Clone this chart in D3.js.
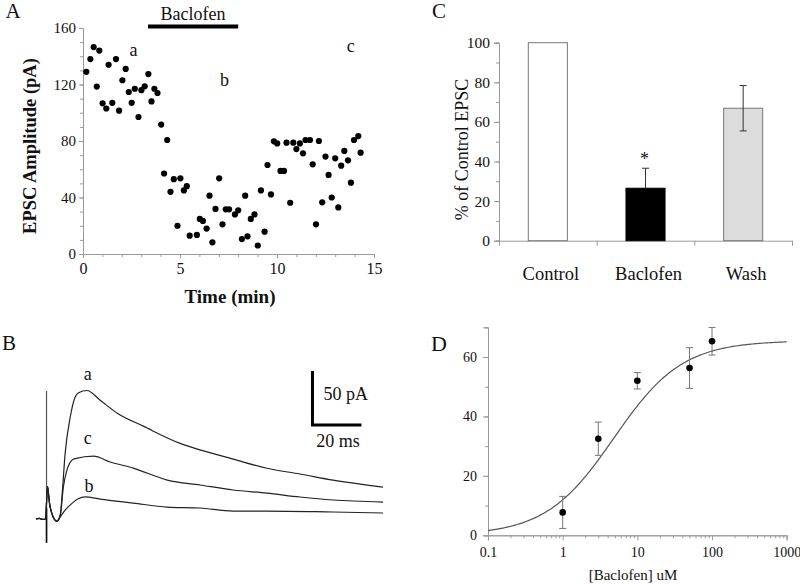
<!DOCTYPE html>
<html><head><meta charset="utf-8">
<script src="https://cdn.jsdelivr.net/npm/d3@7"></script>
<style>
body{margin:0;background:#fff;}
svg{display:block;}
.ax path,.ax line{stroke:#9a9a9a;stroke-width:1;}
</style></head><body>
<svg id="fig" width="800" height="584"></svg>
<script>
// ---------- Panel A: EPSC amplitude over time ----------
const timeMin = [0.17,0.38,0.55,0.71,0.84,1.01,1.2,1.32,1.51,1.7,1.86,2.03,2.2,2.36,2.51,2.67,2.86,3.01,3.18,3.37,3.53,3.68,3.84,4.03,4.34,4.18,4.51,4.68,4.87,5.02,5.2,5.35,5.5,5.87,6.02,6.18,6.37,6.52,6.67,6.83,7.02,7.19,7.36,7.53,7.83,8.0,8.19,8.36,8.48,8.65,8.84,9.01,9.17,9.36,9.51,9.69,9.84,10.01,10.18,10.36,10.49,10.68,10.84,11.0,11.18,11.34,11.47,11.7,11.84,12.01,12.16,12.33,12.5,12.66,12.82,13.0,13.16,13.31,13.47,13.66,13.81,13.97,14.19,14.31];
const epscAmp = [129,138,146.5,118.5,144,106.7,103,134,107,138,101.5,123,131,114.7,107,117,97,116,118.7,127.4,108,117,114,91.6,80.7,57,44,53,20,53.6,45,48,13,13.5,24.8,23.4,18,41.3,8.3,31.9,53.6,21,31.6,31.6,28,30.9,10.6,41.3,12.5,24.8,28,6,45,15.8,63,42.2,79.8,78.3,58.8,58.8,78.8,36.3,78.8,74.3,78.3,71.3,80.7,80.7,63.5,21,80,36.6,69,56,40,67.7,33,62.5,73,66.3,50.5,80.7,83.5,71.7];
const baclofenPeriod = [3.35, 8.0];
const timeTicks = [0,5,10,15];
const ampTicks = [0,40,80,120,160];
const pointMarkersA = [["a",2.6,140],["b",7.3,119],["c",13.8,143]];

// ---------- Panel B: traces (ms, pA) ----------
const preT = [-4.3,-3,-1.5,-0.4,0.4,1.2,2.5,4.2];
const preI = [0,0.6,-0.4,0,30,15,3,-2];
const traceA_t = [5.6,6.3,7.6,9.7,11.7,13.1,16.5,21.9,28.9,39.5,54.6,62.7,76.2,90,103.5,117,137.4];
const traceA_i = [4,20.6,60.8,94.7,113,117,119,110,98,86,70,64,55.5,47,41.7,36,29.6];
const traceC_t = [5.6,6.9,8.3,10.4,11.7,19.2,26,35.4,49.3,62.7,76.2,90,103.5,117,137.4];
const traceC_i = [3,30,45,54.6,56,58.3,52.8,47.2,36.1,31.5,26.9,24,20.4,17.6,15.7];
const traceB_t = [5.6,7.6,10.4,13.1,15.8,21.9,35.4,49.3,62.7,76.2,90,117,137.4];
const traceB_i = [2,8.3,14.5,19,20.6,18.5,14.8,11.1,10.2,7.4,7.4,6.5,5.6];
const artifactRange = [-22, 118.5];
const scaleBar = {pA: 50, ms: 20};

// ---------- Panel C: bar chart ----------
const conditions = ["Control","Baclofen","Wash"];
const percentControl = [100, 26.5, 66.9];
const percentErr = [0, 10.1, 11.45];
const barFills = ["#ffffff","#000000","#dcdcdc"];
const pctTicks = [0,20,40,60,80,100];

// ---------- Panel D: dose response ----------
const doseUM = [1,3,10,50,100];
const inhibition = [7.7,32.5,52,56.3,65.3];
const inhibitionErr = [5.4,5.6,2.75,6.85,4.65];
const doseTicks = [0.1,1,10,100,1000];
const inhTicks = [0,20,40,60];
const hillTop = 65.5, hillEC50 = 4.86, hillN = 0.95;

const svg = d3.select("#fig");
const serif = "Liberation Serif";
function txt(x,y,s,size,opts={}){
  const t = svg.append("text").attr("x",x).attr("y",y).text(s)
    .attr("font-size",size).attr("font-family",serif).attr("fill","#111");
  if(opts.anchor) t.attr("text-anchor",opts.anchor);
  if(opts.bold) t.attr("font-weight","bold");
  if(opts.rotate) t.attr("transform",`rotate(-90,${x},${y})`);
  return t;
}
function styleAxis(size){
  return g=>{
    g.attr("font-family",serif).attr("font-size",size);
    g.selectAll("text").attr("fill","#111").attr("font-family",serif).attr("font-size",size);
  };
}

// ===== Panel A =====
{
  const x = d3.scaleLinear().domain([0,15]).range([83,374]);
  const y = d3.scaleLinear().domain([0,160]).range([254,28]);
  svg.append("g").attr("class","ax").attr("transform","translate(0,254)")
    .call(d3.axisBottom(x).tickValues(d3.range(0,16,1)).tickSize(3).tickFormat(""));
  svg.append("g").attr("class","ax").attr("transform","translate(0,254)")
    .call(d3.axisBottom(x).tickValues(timeTicks).tickSize(4).tickPadding(4.3).tickFormat(d3.format("d")))
    .call(styleAxis(16));
  svg.append("g").attr("class","ax").attr("transform","translate(83,0)")
    .call(d3.axisLeft(y).tickValues(d3.range(0,161,10)).tickSize(3).tickFormat(""));
  svg.append("g").attr("class","ax").attr("transform","translate(83,0)")
    .call(d3.axisLeft(y).tickValues(ampTicks).tickSize(4).tickPadding(3).tickFormat(d3.format("d")))
    .call(styleAxis(15));
  svg.append("g").selectAll("circle").data(timeMin).join("circle")
    .attr("cx",(d)=>x(d)).attr("cy",(d,i)=>y(epscAmp[i])).attr("r",3.1).attr("fill","#000");
  svg.append("line").attr("x1",x(baclofenPeriod[0])).attr("x2",x(baclofenPeriod[1]))
    .attr("y1",26.5).attr("y2",26.5).attr("stroke","#000").attr("stroke-width",4);
  txt((x(baclofenPeriod[0])+x(baclofenPeriod[1]))/2,20,"Baclofen",18,{anchor:"middle"});
  pointMarkersA.forEach(([s,t,v])=>txt(x(t),y(v),s,18,{anchor:"middle"}));
  txt(36,146,"EPSC Amplitude (pA)",18.5,{anchor:"middle",bold:true,rotate:true});
  txt(230,303,"Time (min)",19,{anchor:"middle",bold:true});
  txt(13,18,"A",21,{anchor:"middle"});
}

// ===== Panel B =====
{
  const x = d3.scaleLinear().domain([-4.3,137.4]).range([36,383]);
  const y = d3.scaleLinear().domain([-22,119]).range([542.8,390.5]);
  const line = d3.line().x(d=>x(d[0])).y(d=>y(d[1])).curve(d3.curveMonotoneX);
  const pre = preT.map((t,i)=>[t,preI[i]]);
  const traces = [[traceA_t,traceA_i],[traceC_t,traceC_i],[traceB_t,traceB_i]];
  svg.append("line").attr("x1",x(0)).attr("x2",x(0)).attr("y1",y(artifactRange[1])).attr("y2",y(artifactRange[0]))
    .attr("stroke","#555").attr("stroke-width",1.2);
  svg.append("line").attr("x1",x(0)).attr("x2",x(0)).attr("y1",y(10)).attr("y2",y(artifactRange[0]))
    .attr("stroke","#111").attr("stroke-width",1.6);
  traces.forEach(([ts,is])=>{
    const pts = pre.concat(ts.map((t,i)=>[t,is[i]]));
    svg.append("path").attr("d",line(pts)).attr("fill","none").attr("stroke","#222").attr("stroke-width",1.2);
  });
  txt(x(16.8),380,"a",18,{anchor:"middle"});
  txt(x(16.8),444,"c",18,{anchor:"middle"});
  txt(x(17.3),491.5,"b",18,{anchor:"middle"});
  const bx = 108.6, by = 87;
  svg.append("path").attr("d",`M${x(bx)},${y(by+scaleBar.pA)}V${y(by)}H${x(bx+scaleBar.ms)}`)
    .attr("fill","none").attr("stroke","#000").attr("stroke-width",3);
  txt(x(bx)+11,400,`${scaleBar.pA} pA`,18);
  txt((x(bx)+x(bx+scaleBar.ms))/2+1,447,`${scaleBar.ms} ms`,18,{anchor:"middle"});
  txt(9,350,"B",21,{anchor:"middle"});
}

// ===== Panel C =====
{
  const xb = d3.scaleBand().domain(conditions).range([499,792]).paddingInner(0.6).paddingOuter(0.3);
  const xl = d3.scaleLinear().domain([0,3]).range([499,792]);
  const y = d3.scaleLinear().domain([0,100]).range([240.7,42.7]);
  svg.append("g").attr("class","ax").attr("transform","translate(0,240.7)")
    .call(d3.axisBottom(xl).tickValues([1,2,3]).tickSize(5).tickFormat(""));
  svg.append("g").attr("class","ax").attr("transform","translate(499,0)")
    .call(d3.axisLeft(y).tickValues(d3.range(0,101,10)).tickSize(3).tickFormat(""));
  svg.append("g").attr("class","ax").attr("transform","translate(499,0)")
    .call(d3.axisLeft(y).tickValues(pctTicks).tickSize(5).tickPadding(4).tickFormat(d3.format("d")))
    .call(styleAxis(15.5));
  conditions.forEach((c,i)=>{
    svg.append("rect").attr("x",xb(c)).attr("width",xb.bandwidth())
      .attr("y",y(percentControl[i])).attr("height",y(0)-y(percentControl[i]))
      .attr("fill",barFills[i]).attr("stroke",i===1?"#000":"#777").attr("stroke-width",1);
    if(percentErr[i]>0){
      const cx = xb(c)+xb.bandwidth()/2;
      const top = y(percentControl[i]+percentErr[i]);
      const bot = i===1 ? y(percentControl[i]) : y(percentControl[i]-percentErr[i]);
      svg.append("line").attr("x1",cx).attr("x2",cx).attr("y1",top).attr("y2",bot).attr("stroke","#333");
      svg.append("line").attr("x1",cx-3.5).attr("x2",cx+3.5).attr("y1",top).attr("y2",top).attr("stroke","#333");
      if(i!==1) svg.append("line").attr("x1",cx-3.5).attr("x2",cx+3.5).attr("y1",bot).attr("y2",bot).attr("stroke","#333");
    }
    txt(xb(c)+xb.bandwidth()/2+3,280,c,18.5,{anchor:"middle"});
  });
  txt(xb("Baclofen")+xb.bandwidth()/2-1,y(percentControl[1]+percentErr[1])-3,"*",18,{anchor:"middle"});
  txt(468,149.5,"% of Control EPSC",18,{anchor:"middle",rotate:true});
  txt(439,18,"C",21,{anchor:"middle"});
}

// ===== Panel D =====
{
  const x = d3.scaleLog().domain([0.1,1000]).range([488,786.7]);
  const y = d3.scaleLinear().domain([0,70]).range([535.3,327.3]);
  const minor = [];
  for(let dec=0.1; dec<1000; dec*=10) for(let k=2;k<=9;k++) minor.push(+(dec*k).toPrecision(3));
  svg.append("g").attr("class","ax").attr("transform","translate(0,535.3)")
    .call(d3.axisBottom(x).tickValues(minor).tickSize(3).tickFormat(""));
  svg.append("g").attr("class","ax").attr("transform","translate(0,535.3)")
    .call(d3.axisBottom(x).tickValues(doseTicks).tickSize(5).tickPadding(7).tickFormat(d=>String(d)))
    .call(styleAxis(14));
  svg.append("g").attr("class","ax").attr("transform","translate(488,0)")
    .call(d3.axisLeft(y).tickValues(d3.range(0,71,10)).tickSize(3).tickFormat(""));
  svg.append("g").attr("class","ax").attr("transform","translate(488,0)")
    .call(d3.axisLeft(y).tickValues(inhTicks).tickSize(5).tickPadding(6).tickFormat(d3.format("d")))
    .call(styleAxis(14));
  const fit = d3.range(-1,3.001,0.02).map(l=>{const c=Math.pow(10,l);return [c,hillTop*Math.pow(c,hillN)/(Math.pow(hillEC50,hillN)+Math.pow(c,hillN))];});
  svg.append("path").attr("d",d3.line().x(d=>x(d[0])).y(d=>y(d[1]))(fit))
    .attr("fill","none").attr("stroke","#555").attr("stroke-width",1.2);
  doseUM.forEach((c,i)=>{
    const cx=x(c), t=y(inhibition[i]+inhibitionErr[i]), b=y(inhibition[i]-inhibitionErr[i]);
    svg.append("line").attr("x1",cx).attr("x2",cx).attr("y1",t).attr("y2",b).attr("stroke","#777");
    [t,b].forEach(v=>svg.append("line").attr("x1",cx-3.5).attr("x2",cx+3.5).attr("y1",v).attr("y2",v).attr("stroke","#777"));
    svg.append("circle").attr("cx",cx).attr("cy",y(inhibition[i])).attr("r",3.3).attr("fill","#000");
  });
  txt(633,580,"[Baclofen] uM",15,{anchor:"middle"});
  txt(439,351,"D",22,{anchor:"middle"});
}
</script>
</body></html>
